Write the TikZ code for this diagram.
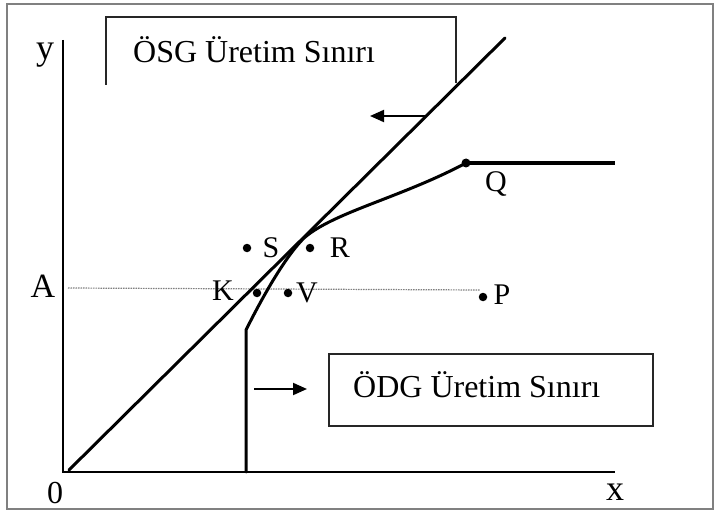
\documentclass[tikz,border=0pt]{standalone}
\usepackage{fontspec}
\setmainfont{Liberation Serif}
\usetikzlibrary{arrows.meta}
\begin{document}
\begin{tikzpicture}[x=1pt,y=-1pt,
  curve/.style={line width=3pt, line cap=round, line join=round},
  axis/.style={line width=2pt},
  boxline/.style={line width=1.8pt, draw=black!85},
  lbl/.style={font=\fontsize{30}{32}\selectfont, inner sep=0pt},
  axlbl/.style={font=\fontsize{36}{40}\selectfont, inner sep=0pt},
  boxtext/.style={font=\fontsize{32}{36}\selectfont, inner sep=0pt, anchor=base west},
  pt/.style={circle, fill=black, inner sep=0pt, minimum size=8.5pt},
  arr/.style={line width=2pt, -{Triangle[length=14pt,width=12pt]}},
]
\useasboundingbox (0,0) rectangle (720,513);
\draw[gray, line width=1.5pt] (7,4) rectangle (713,509);

% axes
\coordinate (O) at (63,472);
\coordinate (ytop) at (63,40);
\coordinate (xend) at (615,472);
\draw[axis] (ytop) -- (O) -- (xend);
\node[axlbl] (ylab) at (45,55) {y};
\node[axlbl] (xlab) at (615,492) {x};
\node[axlbl, font=\fontsize{32}{36}\selectfont] (zero) at (55,493) {0};
\node[axlbl, font=\fontsize{34}{36}\selectfont] (Alab) at (43,286) {A};

% dotted line
\coordinate (dl) at (68,288);
\coordinate (dr) at (480,290);
\draw[gray, line width=1.2pt, dash pattern=on 1.5pt off 1pt] (dl) -- (dr);

% OSG line
\coordinate (s0) at (69,470);
\coordinate (s1) at (505,38);
\draw[curve] (s0) -- (s1);

% ODG frontier
\coordinate (b0) at (246,472);
\coordinate (b1) at (246,330);
\coordinate (T) at (304,238);
\coordinate (Qend) at (615,163);
\node[pt, minimum size=9pt] (Q) at (466,163) {};
\draw[curve] (b0) -- (b1) .. controls (266,290) and (287,255) .. (T)
  .. controls (334,212) and (400,198) .. (Q.center);
\draw[line width=4pt] (Q.center) -- (Qend);
\node[lbl] (Qlab) at (496,184) {Q};

% points
\node[pt] (S) at (247,248) {};
\node[lbl] (Slab) at (271,248) {S};
\node[pt] (R) at (310,248) {};
\node[lbl] (Rlab) at (340,248) {R};
\node[pt] (K) at (257,293) {};
\node[lbl] (Klab) at (223,291) {K};
\node[pt] (V) at (288,293) {};
\node[lbl] (Vlab) at (307,293) {V};
\node[pt] (P) at (483,297) {};
\node[lbl] (Plab) at (502,295) {P};

% upper box
\coordinate (u1) at (106,85);
\coordinate (u2) at (106,17);
\coordinate (u3) at (456,17);
\coordinate (u4) at (456,83);
\draw[boxline] (u1) -- (u2) -- (u3) -- (u4);
\node[boxtext] (osg) at (133,63) {ÖSG Üretim Sınırı};
\coordinate (a1s) at (425,116);
\coordinate (a1e) at (370,116);
\draw[arr] (a1s) -- (a1e);

% lower box
\coordinate (l1) at (329,354);
\coordinate (l2) at (653,426);
\draw[boxline, line width=2.2pt] (l1) rectangle (l2);
\node[boxtext] (odg) at (353,397) {ÖDG Üretim Sınırı};
\coordinate (a2s) at (254,389);
\coordinate (a2e) at (307,389);
\draw[arr] (a2s) -- (a2e);
\end{tikzpicture}
\end{document}
